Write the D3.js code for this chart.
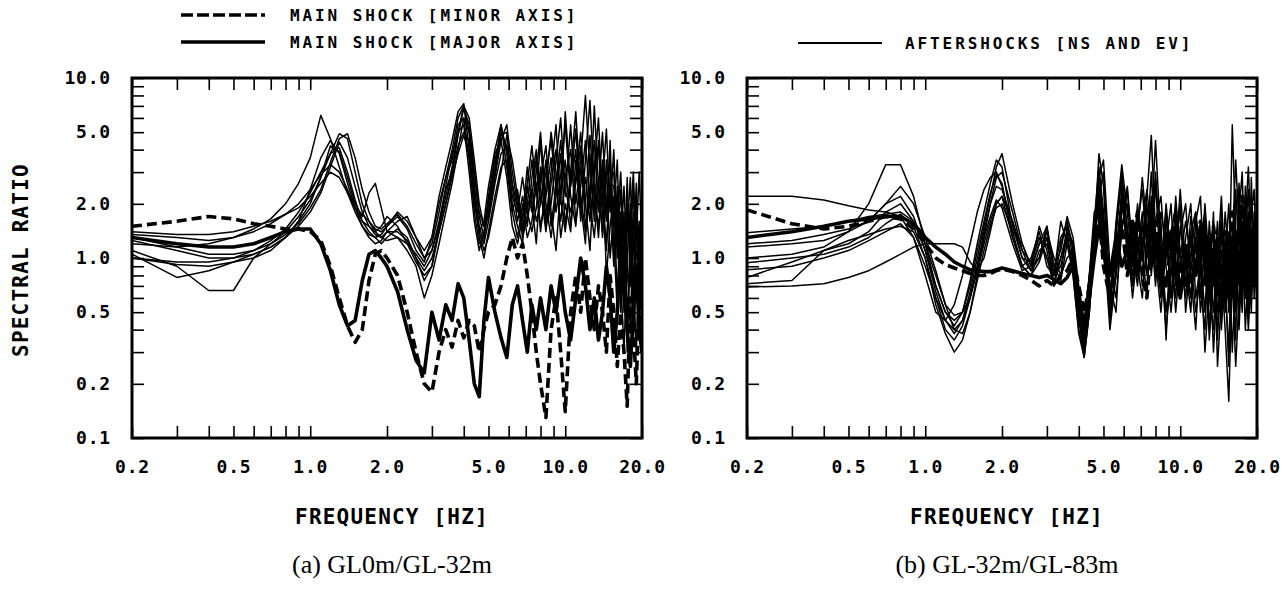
<!DOCTYPE html>
<html>
<head>
<meta charset="utf-8">
<script src="https://cdn.jsdelivr.net/npm/d3@7"></script>
<style>
  body { margin: 0; background: #fff; }
  .mono { font-family: "DejaVu Sans Mono", monospace; font-weight: bold; fill: #000; }
  .caption { font-family: "Liberation Serif", "Times New Roman", serif; fill: #000; }
</style>
</head>
<body>
<svg id="chart" width="1288" height="599"></svg>
<script>
// frequency grid (Hz) shared by every spectral-ratio curve
const freqs = [
  0.2, 0.3, 0.4, 0.5, 0.6, 0.7, 0.8, 0.9, 1.0,
  1.1, 1.2, 1.3, 1.4, 1.5, 1.6, 1.7, 1.8, 1.9, 2.0,
  2.2, 2.4, 2.6, 2.8, 3.0, 3.2, 3.4, 3.6, 3.8, 4.0,
  4.2, 4.4, 4.6, 4.8, 5.0, 5.3, 5.6, 5.9, 6.2, 6.5,
  6.8, 7.1, 7.4, 7.7, 8.0, 8.4, 8.8, 9.2, 9.6, 10.0,
  10.5, 11, 11.5, 12, 12.5, 13, 13.5, 14, 14.5, 15,
  15.5, 16, 16.5, 17, 17.5, 18, 18.5, 19, 19.5, 20
];

const xLabelTicks = [0.2, 0.5, 1, 2, 5, 10, 20];
const xMinorTicks = [0.3, 0.4, 0.6, 0.7, 0.8, 0.9, 3, 4, 6, 7, 8, 9];
const yLabelTicks = [0.1, 0.2, 0.5, 1, 2, 5, 10];
const yAllTicks = [0.1, 0.2, 0.3, 0.4, 0.5, 0.6, 0.7, 0.8, 0.9, 1, 2, 3, 4, 5, 6, 7, 8, 9, 10];

// (a) GL0m/GL-32m
const majorA = [
  1.3, 1.2, 1.15, 1.15, 1.2, 1.3, 1.4, 1.45, 1.45,
  1.2, 0.85, 0.55, 0.42, 0.45, 0.75, 1.05, 1.1, 1.0, 0.9,
  0.65, 0.4, 0.27, 0.23, 0.5, 0.35, 0.55, 0.45, 0.72, 0.6,
  0.35, 0.2, 0.17, 0.45, 0.78, 0.5, 0.36, 0.28, 0.55, 0.7,
  0.45, 0.3, 0.55, 0.4, 0.6, 0.4, 0.7, 0.5, 0.8, 0.5,
  0.35, 0.6, 1.0, 0.7, 0.4, 0.6, 0.35, 0.5, 0.9, 0.6,
  0.3, 0.5, 1.2, 0.7, 0.4, 0.25, 0.5, 0.9, 0.4, 0.3
];
const minorA = [
  1.5, 1.6, 1.7, 1.65, 1.55, 1.5, 1.45, 1.45, 1.4,
  1.25, 0.9, 0.6, 0.42, 0.34, 0.4, 0.75, 1.05, 1.1, 1.0,
  0.8, 0.5, 0.3, 0.2, 0.18, 0.3, 0.4, 0.32, 0.45, 0.36,
  0.45, 0.42, 0.3, 0.4, 0.5, 0.55, 0.7, 1.0, 1.3, 1.0,
  1.2, 0.8, 0.5, 0.3, 0.2, 0.13, 0.4, 0.6, 0.3, 0.14,
  0.5, 0.8, 0.5, 1.0, 0.6, 0.4, 0.7, 0.5, 0.3, 0.8,
  0.5, 0.25, 0.5, 0.3, 0.15, 0.6, 0.4, 0.2, 0.6, 0.4
];
const aftershocksA = [
  [1.2, 1.15, 1.2, 1.3, 1.45, 1.65, 2.0, 2.6, 3.6,
   6.2, 4.6, 3.2, 2.3, 1.8, 1.5, 1.35, 1.3, 1.35, 1.5,
   1.7, 1.45, 1.1, 0.95, 1.3, 2.2, 3.2, 4.5, 6.5, 7.2,
   4.0, 2.0, 1.4, 1.6, 2.5, 4.0, 5.5, 3.2, 1.8, 2.4,
   1.4, 2.0, 3.5, 2.2, 4.5, 1.6, 3.0, 5.5, 2.0, 6.5,
   2.5, 4.0, 1.6, 3.5, 7.5, 2.5, 1.3, 3.0, 1.6, 4.5,
   1.0, 2.5, 0.7, 1.8, 0.4, 1.2, 2.5, 0.6, 1.5, 0.9],
  [1.0, 0.95, 0.95, 1.0, 1.1, 1.25, 1.45, 1.8, 2.3,
   3.0, 3.8, 4.9, 4.6, 3.0, 2.0, 1.6, 1.4, 1.5, 1.7,
   1.5, 1.2, 0.95, 0.8, 0.9, 1.4, 2.0, 3.0, 4.8, 6.8,
   5.5, 3.0, 1.7, 1.3, 1.8, 3.0, 4.8, 5.0, 2.5, 1.6,
   2.2, 1.5, 2.8, 4.0, 2.0, 3.5, 1.5, 2.5, 4.5, 2.2,
   5.5, 2.0, 3.5, 8.0, 3.0, 1.8, 4.5, 2.0, 1.2, 2.8,
   3.0, 1.0, 1.8, 0.5, 1.4, 2.8, 0.8, 0.3, 1.0, 0.6],
  [1.05, 0.78, 0.85, 0.95, 1.05, 1.15, 1.3, 1.6, 2.4,
   3.6, 4.5, 3.8, 2.6, 1.9, 1.5, 1.3, 1.2, 1.25, 1.4,
   1.6, 1.7, 1.3, 1.0, 1.2, 1.8, 2.8, 3.5, 5.5, 6.0,
   3.5, 1.8, 1.2, 1.3, 2.0, 3.5, 5.0, 4.2, 2.0, 1.5,
   1.2, 2.5, 1.8, 3.0, 5.0, 2.0, 1.3, 2.2, 3.8, 1.5,
   3.0, 6.5, 2.2, 1.4, 2.5, 4.5, 1.8, 3.5, 0.8, 1.5,
   2.2, 0.6, 1.2, 2.5, 0.9, 0.4, 1.6, 2.2, 0.5, 1.2],
  [1.1, 0.9, 0.66, 0.66, 1.0, 1.2, 1.4, 1.7, 2.1,
   2.8, 3.8, 4.1, 3.0, 2.1, 1.6, 1.4, 1.3, 1.2, 1.3,
   1.45, 1.3, 1.0, 0.75, 0.9, 1.5, 2.5, 3.8, 5.0, 5.5,
   3.0, 1.6, 1.1, 1.4, 2.2, 3.8, 4.5, 2.8, 1.5, 1.2,
   1.7, 3.2, 2.0, 1.2, 2.8, 4.2, 1.8, 1.1, 2.5, 3.5,
   1.5, 2.8, 5.0, 2.0, 1.1, 3.2, 6.0, 2.0, 3.0, 1.0,
   1.8, 3.5, 0.8, 0.3, 1.0, 2.0, 0.5, 1.3, 3.0, 1.1],
  [1.35, 1.3, 1.25, 1.3, 1.4, 1.55, 1.75, 2.0, 2.4,
   2.9, 3.3, 3.0, 2.4, 1.9, 1.6, 1.5, 1.4, 1.3, 1.25,
   1.3, 1.2, 1.05, 0.9, 1.1, 1.6, 2.4, 3.0, 4.2, 5.0,
   4.5, 2.5, 1.5, 1.2, 1.6, 2.6, 3.8, 4.2, 2.6, 1.9,
   1.5, 1.9, 2.4, 1.6, 2.0, 3.0, 4.5, 2.5, 1.6, 2.8,
   4.0, 1.6, 2.5, 4.5, 2.0, 1.3, 2.4, 5.0, 1.8, 2.5,
   0.9, 1.6, 3.0, 1.2, 0.5, 0.9, 1.8, 0.7, 0.4, 1.8],
  [1.3, 1.15, 1.05, 1.05, 1.1, 1.2, 1.35, 1.55, 1.9,
   2.4, 3.4, 4.6, 4.9, 3.6, 2.4, 1.8, 1.5, 1.45, 1.55,
   1.75, 1.5, 1.2, 1.0, 1.1, 1.5, 2.2, 3.2, 5.0, 7.0,
   6.0, 3.5, 2.0, 1.5, 1.7, 2.8, 4.5, 5.5, 3.0, 2.0,
   1.6, 2.6, 4.2, 2.4, 1.5, 2.2, 3.6, 1.8, 2.9, 5.5,
   2.2, 1.5, 3.2, 2.0, 4.8, 2.2, 1.5, 2.6, 5.2, 1.8,
   4.0, 1.2, 2.4, 0.9, 2.8, 0.7, 1.1, 2.6, 0.8, 0.5],
  [1.0, 0.92, 0.9, 0.95, 1.0, 1.1, 1.3, 1.6, 2.0,
   2.8, 4.2, 3.9, 2.8, 2.0, 1.7, 2.3, 2.6, 1.9, 1.4,
   1.3, 1.1, 0.9, 0.6, 0.8, 1.2, 1.8, 2.6, 4.0, 6.0,
   5.0, 2.5, 1.3, 1.0, 1.4, 2.2, 3.2, 3.5, 1.8, 1.3,
   2.0, 1.3, 1.6, 2.6, 1.4, 2.5, 5.0, 3.0, 1.3, 2.0,
   1.4, 3.5, 2.0, 1.2, 3.8, 1.6, 2.8, 1.3, 3.5, 2.2,
   1.3, 0.5, 1.5, 0.6, 2.0, 1.4, 0.35, 0.8, 1.6, 0.7],
  [1.4, 1.35, 1.35, 1.4, 1.5, 1.6, 1.75, 1.9, 2.2,
   2.6, 3.0, 2.8, 2.3, 1.9, 1.75, 1.6, 1.45, 1.4, 1.5,
   1.8, 1.6, 1.3, 1.1, 1.3, 2.0, 2.8, 4.0, 6.0, 7.0,
   5.0, 3.0, 1.8, 1.5, 2.0, 3.2, 5.5, 3.8, 2.2, 1.8,
   2.8, 1.8, 1.4, 1.9, 3.2, 1.5, 2.0, 3.5, 6.0, 2.4,
   1.8, 2.6, 4.2, 1.5, 2.0, 7.0, 2.5, 1.4, 2.0, 3.5,
   1.5, 2.2, 0.6, 1.2, 0.3, 1.6, 3.0, 1.0, 1.2, 0.4],
  [1.25, 1.1, 1.0, 1.0, 1.05, 1.15, 1.3, 1.5, 1.8,
   2.3, 3.2, 4.4, 3.6, 2.5, 1.8, 1.5, 1.35, 1.3, 1.4,
   1.4, 1.25, 1.0, 0.85, 1.0, 1.4, 2.0, 2.8, 3.8, 4.8,
   3.8, 2.2, 1.4, 1.1, 1.3, 2.0, 3.0, 4.8, 3.5, 2.2,
   1.3, 1.7, 2.2, 3.6, 2.4, 1.4, 2.6, 4.0, 2.1, 1.4,
   2.6, 5.2, 1.9, 2.8, 1.6, 3.0, 4.2, 1.7, 1.1, 2.6,
   2.5, 1.4, 0.5, 0.9, 1.9, 1.0, 0.6, 1.9, 1.0, 2.2]
];

// (b) GL-32m/GL-83m
const majorB = [
  1.3, 1.4, 1.5, 1.6, 1.65, 1.7, 1.7, 1.55, 1.3,
  1.15, 1.05, 0.95, 0.9, 0.86, 0.85, 0.84, 0.84, 0.86, 0.88,
  0.85, 0.82, 0.8, 0.78, 0.8, 0.76, 0.72, 0.78, 0.9, 0.6,
  0.4, 0.6, 1.0, 1.5, 1.1, 0.8, 1.3, 0.9, 1.1, 1.6,
  0.8, 1.2, 1.5, 0.9, 1.3, 0.7, 1.1, 1.4, 0.9, 0.6,
  1.0, 1.3, 0.8, 1.5, 0.9, 0.6, 1.1, 0.7, 0.5, 1.2,
  0.6, 0.9, 1.4, 0.8, 1.2, 0.7, 1.6, 1.0, 1.3, 1.1
];
const minorB = [
  1.85, 1.55, 1.45, 1.5, 1.6, 1.7, 1.65, 1.45, 1.2,
  1.0, 0.92, 0.88, 0.85, 0.82, 0.8, 0.8, 0.82, 0.85, 0.87,
  0.84, 0.8, 0.75, 0.7, 0.75, 0.7, 0.8, 0.85, 1.0, 0.7,
  0.5, 0.7, 1.2, 1.8, 0.9, 0.6, 1.0, 1.6, 0.8, 1.2,
  1.8, 0.9, 0.6, 1.2, 1.6, 1.0, 0.7, 1.2, 1.8, 0.8,
  1.2, 0.7, 1.0, 1.6, 1.2, 0.8, 1.5, 1.0, 0.6, 1.4,
  0.9, 1.8, 0.7, 1.4, 2.2, 1.0, 0.8, 1.5, 1.2, 0.9
];
const aftershocksB = [
  [2.2, 2.2, 2.1, 1.95, 1.85, 1.8, 1.7, 1.3, 0.8,
   0.5, 0.45, 0.55, 0.8, 1.2, 1.8, 2.4, 2.8, 3.0, 2.5,
   1.4, 0.9, 0.8, 1.1, 1.2, 0.8, 0.9, 1.3, 0.9, 0.45,
   0.3, 0.6, 1.6, 3.2, 1.8, 0.6, 1.0, 2.2, 1.2, 0.8,
   1.5, 2.4, 1.2, 3.0, 1.0, 0.5, 1.2, 2.0, 0.7, 1.4,
   2.0, 0.8, 0.4, 1.2, 1.8, 0.6, 1.0, 0.35, 1.4, 0.8,
   0.25, 1.2, 3.5, 1.5, 0.6, 2.5, 1.0, 0.5, 1.8, 1.3],
  [1.0, 1.05, 1.15, 1.4, 2.0, 3.3, 3.3, 2.2, 1.2,
   0.7, 0.5, 0.42, 0.5, 0.75, 1.2, 1.8, 2.6, 3.5, 3.2,
   1.5, 1.0, 0.95, 1.3, 1.0, 0.7, 1.2, 1.6, 1.1, 0.5,
   0.28, 0.5, 1.3, 3.8, 2.5, 0.5, 1.3, 3.0, 1.4, 0.9,
   2.0, 1.1, 0.6, 1.6, 4.5, 1.2, 0.5, 0.9, 1.6, 0.6,
   1.3, 2.0, 0.6, 0.9, 1.5, 0.35, 0.8, 1.6, 0.5, 1.0,
   0.6, 5.5, 1.4, 0.7, 2.0, 1.2, 0.5, 2.8, 0.9, 1.5],
  [1.15, 1.2, 1.25, 1.4, 1.6, 2.0, 2.5, 2.0, 1.3,
   0.85, 0.55, 0.4, 0.38, 0.5, 0.8, 1.3, 2.0, 2.8, 3.0,
   1.8, 1.1, 0.85, 1.0, 1.4, 1.0, 0.8, 1.5, 1.2, 0.6,
   0.35, 0.7, 1.5, 2.6, 1.3, 0.4, 0.8, 2.5, 1.5, 0.7,
   1.2, 0.8, 2.0, 1.0, 2.6, 0.8, 1.4, 0.6, 1.2, 1.8,
   0.7, 1.4, 1.8, 0.5, 0.9, 1.2, 0.3, 0.8, 1.8, 0.6,
   1.4, 0.9, 0.35, 2.2, 0.8, 1.3, 2.4, 0.7, 1.1, 2.0],
  [0.69, 0.7, 0.72, 0.78, 0.85, 0.95, 1.05, 1.15, 1.2,
   1.2, 1.2, 1.2, 1.15, 0.95, 0.85, 1.0, 1.4, 2.0, 2.2,
   1.3, 0.9, 0.8, 0.95, 1.3, 0.9, 1.1, 1.7, 1.3, 0.7,
   0.45, 0.8, 1.8, 2.0, 1.0, 0.6, 1.5, 2.8, 1.0, 0.7,
   1.4, 2.8, 1.5, 0.8, 1.6, 2.2, 0.9, 0.5, 1.0, 2.4,
   0.9, 0.5, 1.6, 2.2, 0.7, 1.0, 1.6, 0.4, 0.7, 1.8,
   1.0, 0.3, 0.9, 1.8, 3.0, 0.7, 1.2, 2.2, 0.6, 1.0],
  [0.72, 0.75, 1.1, 1.25, 1.35, 1.45, 1.5, 1.4, 1.0,
   0.6, 0.4, 0.35, 0.42, 0.6, 0.9, 1.4, 2.0, 2.5, 2.4,
   1.6, 1.0, 0.85, 1.2, 1.5, 0.9, 0.75, 1.2, 1.0, 0.5,
   0.32, 0.55, 1.1, 2.2, 3.0, 0.7, 0.5, 1.8, 2.5, 1.1,
   0.7, 1.5, 1.0, 2.2, 1.2, 0.6, 1.6, 1.1, 0.5, 1.0,
   1.6, 1.0, 0.5, 0.8, 2.0, 0.9, 0.5, 1.2, 0.9, 0.4,
   0.16, 0.8, 2.4, 1.0, 0.5, 1.6, 3.2, 1.2, 0.7, 1.5],
  [0.86, 0.9, 1.0, 1.1, 1.25, 1.4, 1.55, 1.3, 0.9,
   0.6, 0.45, 0.4, 0.45, 0.6, 0.9, 1.3, 1.7, 2.1, 1.9,
   1.2, 0.85, 0.9, 1.5, 1.1, 0.7, 1.0, 1.4, 0.8, 0.4,
   0.3, 0.7, 1.4, 2.4, 1.5, 0.45, 0.9, 2.0, 1.3, 0.6,
   1.1, 1.8, 0.8, 1.3, 3.0, 1.0, 0.4, 0.8, 1.4, 0.7,
   1.1, 0.6, 1.2, 0.7, 0.4, 1.3, 0.9, 0.5, 1.1, 0.7,
   0.3, 1.5, 0.5, 0.9, 1.4, 0.4, 0.9, 1.8, 2.4, 0.8],
  [0.78, 0.95, 1.1, 1.2, 1.4, 1.8, 2.0, 1.6, 1.1,
   0.7, 0.5, 0.45, 0.5, 0.7, 1.1, 1.6, 2.3, 2.9, 2.6,
   1.3, 0.9, 1.0, 1.4, 0.9, 0.8, 1.6, 1.2, 0.8, 0.38,
   0.28, 0.5, 1.2, 3.0, 1.6, 0.55, 1.6, 3.3, 1.8, 0.9,
   1.7, 1.1, 2.2, 4.8, 1.4, 0.9, 1.8, 0.6, 1.3, 2.0,
   0.5, 1.0, 1.8, 1.1, 0.3, 0.7, 1.8, 0.25, 0.6, 1.3,
   0.5, 1.1, 0.6, 2.6, 1.0, 0.6, 1.8, 0.7, 1.4, 0.6],
  [0.94, 1.0, 1.05, 1.15, 1.3, 1.55, 1.75, 1.5, 1.0,
   0.55, 0.38, 0.3, 0.35, 0.5, 0.75, 1.1, 1.5, 1.9, 2.0,
   1.4, 1.2, 0.9, 1.2, 1.3, 0.7, 0.8, 1.0, 1.1, 0.6,
   0.35, 0.6, 1.4, 2.0, 1.2, 0.5, 0.8, 1.5, 2.0, 1.2,
   0.9, 0.6, 1.3, 1.8, 0.8, 1.6, 0.35, 1.4, 1.9, 1.1,
   0.7, 1.7, 1.2, 0.6, 1.3, 0.4, 1.2, 0.8, 1.5, 0.5,
   0.9, 0.6, 1.2, 0.4, 1.0, 2.0, 0.6, 1.2, 0.8, 2.6],
  [1.2, 1.25, 1.35, 1.45, 1.6, 2.0, 2.2, 1.7, 1.1,
   0.65, 0.45, 0.38, 0.45, 0.65, 1.0, 1.5, 2.2, 3.2, 3.8,
   2.0, 1.2, 0.9, 1.0, 1.5, 0.8, 1.0, 1.3, 1.2, 0.5,
   0.3, 0.5, 1.1, 2.8, 3.5, 0.9, 0.6, 1.4, 2.4, 1.0,
   0.8, 1.6, 2.4, 1.4, 0.7, 1.8, 1.2, 0.8, 2.2, 1.0,
   0.6, 1.4, 0.8, 1.0, 0.5, 1.6, 0.7, 1.3, 0.4, 0.9,
   2.0, 0.8, 0.25, 0.6, 1.6, 0.9, 0.4, 0.9, 1.6, 1.2],
  [1.38, 1.45, 1.5, 1.6, 1.7, 1.75, 1.8, 1.6, 1.2,
   0.8, 0.55, 0.48, 0.5, 0.6, 0.85, 1.2, 1.6, 2.0, 2.2,
   1.6, 1.1, 0.95, 1.3, 1.0, 0.85, 1.3, 1.5, 1.0, 0.55,
   0.4, 0.8, 1.6, 2.2, 1.4, 0.6, 1.1, 2.2, 1.1, 0.8,
   1.3, 0.7, 1.0, 2.0, 1.2, 0.8, 2.0, 1.0, 0.6, 1.5,
   1.0, 0.6, 1.3, 0.9, 1.6, 0.6, 0.4, 1.0, 2.2, 0.8,
   0.6, 1.3, 0.9, 0.5, 1.2, 2.2, 1.4, 0.6, 1.0, 1.8]
];

const panels = [
  {left: 132, major: majorA, minor: minorA, after: aftershocksA, caption: "(a) GL0m/GL-32m"},
  {left: 747, major: majorB, minor: minorB, after: aftershocksB, caption: "(b) GL-32m/GL-83m"}
];

// guard against typos in the hand-read series
panels.forEach(p => {
  [p.major, p.minor, ...p.after].forEach((s, k) => {
    if (s.length !== freqs.length) throw new Error(`series ${k} at ${p.left} has ${s.length} values`);
  });
});

const plotW = 510, plotH = 360, plotTop = 78;
const svg = d3.select('#chart');

const fmt = d => d.toFixed(1);

panels.forEach((p, i) => {
  const g = svg.append('g').attr('transform', `translate(${p.left},${plotTop})`);

  const x = d3.scaleLog().domain([0.2, 20]).range([0, plotW]);
  const y = d3.scaleLog().domain([0.1, 10]).range([plotH, 0]);

  g.append('clipPath').attr('id', 'clip' + i)
    .append('rect').attr('width', plotW).attr('height', plotH);

  const line = d3.line()
    .x((d, j) => x(freqs[j]))
    .y(d => y(d));

  const curves = g.append('g').attr('clip-path', `url(#clip${i})`)
    .attr('fill', 'none').attr('stroke', '#000')
    .attr('stroke-linejoin', 'round');

  // aftershocks: thin lines
  curves.selectAll('path.after')
    .data(p.after)
    .join('path')
    .attr('class', 'after')
    .attr('d', line)
    .attr('stroke-width', 1.5);

  // main shock, major axis: thick solid
  curves.append('path')
    .attr('d', line(p.major))
    .attr('stroke-width', 3.6);

  // main shock, minor axis: thick dashed
  curves.append('path')
    .attr('d', line(p.minor))
    .attr('stroke-width', 3.6)
    .attr('stroke-dasharray', '10,5');

  const xTicks = [...xLabelTicks, ...xMinorTicks];

  const styleAxis = sel => {
    sel.select('.domain').remove();
    sel.selectAll('.tick line').attr('stroke-width', 1.6);
    sel.selectAll('text')
      .attr('class', 'mono')
      .attr('font-size', 18)
      .attr('letter-spacing', 0.8);
  };

  g.append('g')
    .attr('transform', `translate(0,${plotH})`)
    .call(d3.axisBottom(x).tickValues(xTicks).tickSize(-12).tickPadding(22)
      .tickFormat(d => xLabelTicks.includes(d) ? fmt(d) : ''))
    .call(styleAxis);

  g.append('g')
    .call(d3.axisTop(x).tickValues(xTicks).tickSize(-12).tickFormat(''))
    .call(styleAxis);

  g.append('g')
    .call(d3.axisLeft(y).tickValues(yAllTicks).tickSize(-12).tickPadding(21)
      .tickFormat(d => yLabelTicks.includes(d) ? fmt(d) : ''))
    .call(styleAxis);

  g.append('g')
    .attr('transform', `translate(${plotW},0)`)
    .call(d3.axisRight(y).tickValues(yAllTicks).tickSize(-12).tickFormat(''))
    .call(styleAxis);

  // frame
  g.append('rect')
    .attr('width', plotW).attr('height', plotH)
    .attr('fill', 'none').attr('stroke', '#000').attr('stroke-width', 3);

  // x axis title
  g.append('text')
    .attr('class', 'mono')
    .attr('x', plotW / 2 + 5).attr('y', 446)
    .attr('text-anchor', 'middle')
    .attr('font-size', 21).attr('letter-spacing', 1.2)
    .text('FREQUENCY [HZ]');

  // caption
  g.append('text')
    .attr('class', 'caption')
    .attr('x', plotW / 2 + 5).attr('y', 495)
    .attr('text-anchor', 'middle')
    .attr('font-size', 26)
    .text(p.caption);
});

// y axis title
svg.append('text')
  .attr('class', 'mono')
  .attr('transform', 'translate(28,260) rotate(-90)')
  .attr('text-anchor', 'middle')
  .attr('font-size', 21).attr('letter-spacing', 1.2)
  .text('SPECTRAL RATIO');

// legends
const legend = svg.append('g').attr('class', 'legend');
const legendRows = [
  {x1: 181, x2: 265, y: 15, tx: 290, dash: '12,4', w: 3.6, label: 'MAIN SHOCK [MINOR AXIS]'},
  {x1: 181, x2: 265, y: 42, tx: 290, dash: null, w: 3.6, label: 'MAIN SHOCK [MAJOR AXIS]'},
  {x1: 798, x2: 882, y: 43, tx: 905, dash: null, w: 2, label: 'AFTERSHOCKS [NS AND EV]'}
];
legendRows.forEach(r => {
  legend.append('line')
    .attr('x1', r.x1).attr('x2', r.x2).attr('y1', r.y).attr('y2', r.y)
    .attr('stroke', '#000').attr('stroke-width', r.w)
    .attr('stroke-dasharray', r.dash);
  legend.append('text')
    .attr('class', 'mono')
    .attr('x', r.tx).attr('y', r.y + 5.5)
    .attr('font-size', 16).attr('letter-spacing', 2.9)
    .text(r.label);
});
</script>
</body>
</html>
